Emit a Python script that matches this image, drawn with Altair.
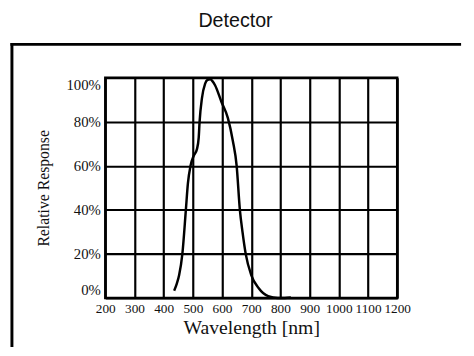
import altair as alt
import pandas as pd

# Detector relative spectral response
wavelength = [436, 445, 453, 464, 476, 483, 492, 503, 514, 520, 523, 531, 542, 550,
              559, 567, 576, 598, 620, 637, 650, 661, 670, 681, 700, 725, 758, 791,
              815, 836]
response = [3.3, 6.5, 10.4, 20, 40, 52, 60, 64.6, 67.6, 72.8, 80, 90.6, 97.3, 99.0,
            99.3, 98.5, 96.6, 89, 81.7, 71.3, 60, 40, 30, 20, 10.4, 4.5, 0.8, 0.0,
            0.0, 0.2]

x_ticks = [200, 300, 400, 500, 600, 700, 800, 900, 1000, 1100, 1200]
y_ticks = [0, 20, 40, 60, 80, 100]

df = pd.DataFrame({"wl": wavelength, "resp": response})

W, H = 297, 224

line = alt.Chart(df).mark_line(
    color="black", strokeWidth=2.5, interpolate="monotone"
).encode(
    x=alt.X("wl:Q",
            scale=alt.Scale(domain=[200, 1200], nice=False, zero=False),
            axis=alt.Axis(values=x_ticks, title="Wavelength [nm]", format="d",
                          grid=True, gridColor="black", gridWidth=2.2, gridOpacity=1,
                          ticks=False, domain=False, labelPadding=4,
                          labelFont="Liberation Serif", labelFontSize=13.5,
                          labelColor="#111", labelFlush=False, labelOverlap=False,
                          titleFont="Liberation Serif", titleFontSize=20,
                          titleFontWeight="normal", titleColor="#111",
                          titlePadding=3)),
    y=alt.Y("resp:Q",
            scale=alt.Scale(domain=[0, 100], nice=False),
            axis=alt.Axis(values=y_ticks, title="Relative Response",
                          labelExpr="datum.value + '%'",
                          grid=True, gridColor="black", gridWidth=2.2, gridOpacity=1,
                          ticks=False, domain=False, labelPadding=5,
                          labelFont="Liberation Serif", labelFontSize=15,
                          labelColor="#111", labelFlush=True, labelOverlap=False,
                          titleFont="Liberation Serif", titleFontSize=16,
                          titleFontWeight="normal", titleColor="#111",
                          titlePadding=15)),
)

# outer frame: thin filled bars (left side and top)
left_bar = alt.Chart(alt.Data(values=[{"k": "left"}])).mark_rect(
    color="black", clip=False
).encode(
    x=alt.value(-96.5), x2=alt.value(-93.5),
    y=alt.value(-35.5), y2=alt.value(274))
top_bar = alt.Chart(alt.Data(values=[{"k": "top"}])).mark_rect(
    color="black", clip=False
).encode(
    x=alt.value(-96.5), x2=alt.value(362),
    y=alt.value(-35.5), y2=alt.value(-32.5))

chart = alt.layer(left_bar, top_bar, line).properties(
    width=W, height=H,
    title=alt.Title("Detector", font="Liberation Sans", fontSize=20,
                    fontWeight="normal", color="#111", frame="group",
                    anchor="middle", dx=-16, offset=12),
    autosize=alt.AutoSizeParams(type="none"),
    padding={"left": 99, "top": 68, "right": 70, "bottom": 50},
).configure_view(
    stroke="black", strokeWidth=2.5
)

chart.save("out.html", embed_options={"renderer": "svg", "actions": False})
